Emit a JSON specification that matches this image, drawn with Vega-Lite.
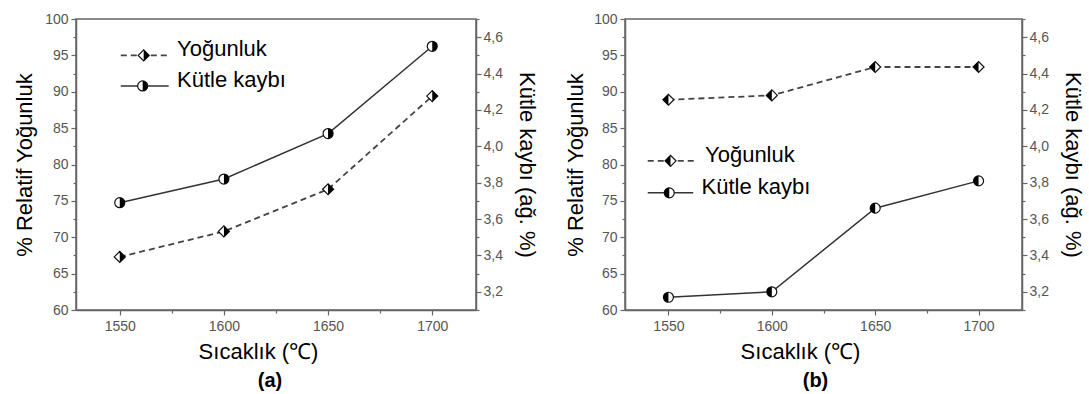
{
  "$schema": "https://vega.github.io/schema/vega-lite/v6.json",
  "padding": {"left": 12, "top": 11, "right": 0, "bottom": 0},
  "background": "white",
  "config": {
    "font": "Liberation Sans",
    "view": {"stroke": "#666", "strokeWidth": 1.5},
    "axis": {
      "grid": false,
      "domainColor": "#666",
      "domainWidth": 1.5,
      "tickColor": "#666",
      "tickWidth": 1.2,
      "labelColor": "#555",
      "labelFont": "Liberation Sans",
      "labelFontSize": 14,
      "titleFont": "Liberation Sans",
      "titleFontSize": 22,
      "titleFontWeight": "normal",
      "titleColor": "#000"
    }
  },
  "datasets": {
    "a": [
      {"T": 1550, "dens": 67.3, "loss": 3.69},
      {"T": 1600, "dens": 70.8, "loss": 3.82},
      {"T": 1650, "dens": 76.6, "loss": 4.07},
      {"T": 1700, "dens": 89.4, "loss": 4.55}
    ],
    "b": [
      {"T": 1550, "dens": 88.9, "loss": 3.17},
      {"T": 1600, "dens": 89.5, "loss": 3.2},
      {"T": 1650, "dens": 93.4, "loss": 3.66},
      {"T": 1700, "dens": 93.4, "loss": 3.81}
    ]
  },
  "spacing": 24,
  "hconcat": [
    {
      "width": 400,
      "height": 291,
      "title": {"text": "(a)", "orient": "bottom", "fontSize": 20, "fontWeight": "bold", "color": "#000", "offset": 9, "anchor": "middle", "dx": -6},
      "resolve": {"scale": {"y": "independent"}},
      "layer": [
        {
          "data": {"name": "a"},
          "encoding": {
            "x": {"field": "T", "type": "quantitative", "scale": {"domain": [1529, 1721], "nice": false, "zero": false},
              "axis": {"title": "Sıcaklık (℃)", "values": [1550, 1575, 1600, 1625, 1650, 1675, 1700], "format": "d",
                "labelExpr": "datum.value % 50 === 0 ? datum.label : ''",
                "tickSize": {"condition": {"test": "datum.value % 50 !== 0", "value": 3}, "value": 5},
                "labelPadding": 4, "titlePadding": 8, "titleX": 182}},
            "y": {"field": "dens", "type": "quantitative", "scale": {"domain": [60, 100], "nice": false, "zero": false},
              "axis": {"title": "% Relatif Yoğunluk", "orient": "left", "format": "d",
                "values": [60, 62.5, 65, 67.5, 70, 72.5, 75, 77.5, 80, 82.5, 85, 87.5, 90, 92.5, 95, 97.5, 100],
                "labelExpr": "datum.value % 5 === 0 ? datum.label : ''",
                "tickSize": {"condition": {"test": "datum.value % 5 !== 0", "value": 3}, "value": 5},
                "labelPadding": 3, "titlePadding": 8}}
          },
          "layer": [
            {"mark": {"type": "line", "color": "#444", "strokeWidth": 1.8, "strokeDash": [6, 4]}},
            {"mark": {"type": "point", "shape": "diamond", "size": 121, "filled": true, "fill": "white", "stroke": "#111", "strokeWidth": 1.2, "opacity": 1}},
            {"mark": {"type": "point", "shape": "M0,-1L1,0L0,1Z", "size": 121, "filled": true, "fill": "#000", "strokeWidth": 0, "opacity": 1}}
          ]
        },
        {
          "data": {"values": [
            {"series": "Yoğunluk", "x1": 1550.5, "x2": 1573.5, "xm": 1561.5, "xt": 1577.5, "y": 95},
            {"series": "Kütle kaybı", "x1": 1550.5, "x2": 1573.5, "xm": 1561, "xt": 1577.5, "y": 90.8}
          ]},
          "layer": [
            {"transform": [{"filter": "datum.series === 'Yoğunluk'"}], "mark": {"type": "rule", "color": "#444", "strokeWidth": 1.8, "strokeDash": [6, 4]},
              "encoding": {"x": {"field": "x1", "type": "quantitative", "scale": {"domain": [1529, 1721], "nice": false, "zero": false}}, "x2": {"field": "x2"}, "y": {"field": "y", "type": "quantitative", "scale": {"domain": [60, 100], "nice": false, "zero": false}, "axis": null}}},
            {"transform": [{"filter": "datum.series === 'Kütle kaybı'"}], "mark": {"type": "rule", "color": "#333", "strokeWidth": 1.5},
              "encoding": {"x": {"field": "x1", "type": "quantitative"}, "x2": {"field": "x2"}, "y": {"field": "y", "type": "quantitative", "axis": null}}},
            {"transform": [{"filter": "datum.series === 'Yoğunluk'"}], "mark": {"type": "point", "shape": "diamond", "size": 121, "filled": true, "fill": "white", "stroke": "#111", "strokeWidth": 1.2, "opacity": 1},
              "encoding": {"x": {"field": "xm", "type": "quantitative"}, "y": {"field": "y", "type": "quantitative", "axis": null}}},
            {"transform": [{"filter": "datum.series === 'Yoğunluk'"}], "mark": {"type": "point", "shape": "M0,-1L1,0L0,1Z", "size": 121, "filled": true, "fill": "#000", "strokeWidth": 0, "opacity": 1},
              "encoding": {"x": {"field": "xm", "type": "quantitative"}, "y": {"field": "y", "type": "quantitative", "axis": null}}},
            {"transform": [{"filter": "datum.series === 'Kütle kaybı'"}], "mark": {"type": "point", "shape": "circle", "size": 100, "filled": true, "fill": "white", "stroke": "#111", "strokeWidth": 1.2, "opacity": 1},
              "encoding": {"x": {"field": "xm", "type": "quantitative"}, "y": {"field": "y", "type": "quantitative", "axis": null}}},
            {"transform": [{"filter": "datum.series === 'Kütle kaybı'"}], "mark": {"type": "point", "shape": "M0,-1A1,1,0,0,1,0,1Z", "size": 100, "filled": true, "fill": "#000", "strokeWidth": 0, "opacity": 1},
              "encoding": {"x": {"field": "xm", "type": "quantitative"}, "y": {"field": "y", "type": "quantitative", "axis": null}}},
            {"mark": {"type": "text", "align": "left", "baseline": "alphabetic", "fontSize": 22, "color": "#000", "dy": 1},
              "encoding": {"x": {"field": "xt", "type": "quantitative"}, "y": {"field": "y", "type": "quantitative", "axis": null}, "text": {"field": "series"}}}
          ]
        },
        {
          "data": {"name": "a"},
          "encoding": {
            "x": {"field": "T", "type": "quantitative", "scale": {"domain": [1529, 1721], "nice": false, "zero": false}},
            "y": {"field": "loss", "type": "quantitative", "scale": {"domain": [3.1, 4.7], "nice": false, "zero": false},
              "axis": {"title": "Kütle kaybı (ağ. %)", "orient": "right",
                "values": [3.1, 3.2, 3.3, 3.4, 3.5, 3.6, 3.7, 3.8, 3.9, 4.0, 4.1, 4.2, 4.3, 4.4, 4.5, 4.6, 4.7],
                "labelExpr": "round(datum.value * 10) % 2 === 0 ? replace(format(datum.value, '.1f'), '.', ',') : ''",
                "tickSize": {"condition": {"test": "round(datum.value * 10) % 2 !== 0", "value": 3}, "value": 5},
                "labelPadding": 2, "titlePadding": 12}}
          },
          "layer": [
            {"mark": {"type": "line", "color": "#333", "strokeWidth": 1.5}},
            {"mark": {"type": "point", "shape": "circle", "size": 100, "filled": true, "fill": "white", "stroke": "#111", "strokeWidth": 1.2, "opacity": 1}},
            {"mark": {"type": "point", "shape": "M0,-1A1,1,0,0,1,0,1Z", "size": 100, "filled": true, "fill": "#000", "strokeWidth": 0, "opacity": 1}}
          ]
        }
      ]
    },
    {
      "width": 397,
      "height": 291,
      "title": {"text": "(b)", "orient": "bottom", "fontSize": 20, "fontWeight": "bold", "color": "#000", "offset": 9, "anchor": "middle", "dx": -8},
      "resolve": {"scale": {"y": "independent"}},
      "layer": [
        {
          "data": {"name": "b"},
          "encoding": {
            "x": {"field": "T", "type": "quantitative", "scale": {"domain": [1529, 1721], "nice": false, "zero": false},
              "axis": {"title": "Sıcaklık (℃)", "values": [1550, 1575, 1600, 1625, 1650, 1675, 1700], "format": "d",
                "labelExpr": "datum.value % 50 === 0 ? datum.label : ''",
                "tickSize": {"condition": {"test": "datum.value % 50 !== 0", "value": 3}, "value": 5},
                "labelPadding": 4, "titlePadding": 8, "titleX": 175}},
            "y": {"field": "dens", "type": "quantitative", "scale": {"domain": [60, 100], "nice": false, "zero": false},
              "axis": {"title": "% Relatif Yoğunluk", "orient": "left", "format": "d",
                "values": [60, 62.5, 65, 67.5, 70, 72.5, 75, 77.5, 80, 82.5, 85, 87.5, 90, 92.5, 95, 97.5, 100],
                "labelExpr": "datum.value % 5 === 0 ? datum.label : ''",
                "tickSize": {"condition": {"test": "datum.value % 5 !== 0", "value": 3}, "value": 5},
                "labelPadding": 3, "titlePadding": 6}}
          },
          "layer": [
            {"mark": {"type": "line", "color": "#444", "strokeWidth": 1.8, "strokeDash": [6, 4]}},
            {"mark": {"type": "point", "shape": "diamond", "size": 121, "filled": true, "fill": "white", "stroke": "#111", "strokeWidth": 1.2, "opacity": 1}},
            {"mark": {"type": "point", "shape": "M0,-1L-1,0L0,1Z", "size": 121, "filled": true, "fill": "#000", "strokeWidth": 0, "opacity": 1}}
          ]
        },
        {
          "data": {"values": [
            {"series": "Yoğunluk", "x1": 1540, "x2": 1562.8, "xm": 1551, "xt": 1567.7, "y": 80.5},
            {"series": "Kütle kaybı", "x1": 1540, "x2": 1562, "xm": 1550.4, "xt": 1566, "y": 76.1}
          ]},
          "layer": [
            {"transform": [{"filter": "datum.series === 'Yoğunluk'"}], "mark": {"type": "rule", "color": "#444", "strokeWidth": 1.8, "strokeDash": [6, 4]},
              "encoding": {"x": {"field": "x1", "type": "quantitative", "scale": {"domain": [1529, 1721], "nice": false, "zero": false}}, "x2": {"field": "x2"}, "y": {"field": "y", "type": "quantitative", "scale": {"domain": [60, 100], "nice": false, "zero": false}, "axis": null}}},
            {"transform": [{"filter": "datum.series === 'Kütle kaybı'"}], "mark": {"type": "rule", "color": "#333", "strokeWidth": 1.5},
              "encoding": {"x": {"field": "x1", "type": "quantitative"}, "x2": {"field": "x2"}, "y": {"field": "y", "type": "quantitative", "axis": null}}},
            {"transform": [{"filter": "datum.series === 'Yoğunluk'"}], "mark": {"type": "point", "shape": "diamond", "size": 121, "filled": true, "fill": "white", "stroke": "#111", "strokeWidth": 1.2, "opacity": 1},
              "encoding": {"x": {"field": "xm", "type": "quantitative"}, "y": {"field": "y", "type": "quantitative", "axis": null}}},
            {"transform": [{"filter": "datum.series === 'Yoğunluk'"}], "mark": {"type": "point", "shape": "M0,-1L-1,0L0,1Z", "size": 121, "filled": true, "fill": "#000", "strokeWidth": 0, "opacity": 1},
              "encoding": {"x": {"field": "xm", "type": "quantitative"}, "y": {"field": "y", "type": "quantitative", "axis": null}}},
            {"transform": [{"filter": "datum.series === 'Kütle kaybı'"}], "mark": {"type": "point", "shape": "circle", "size": 100, "filled": true, "fill": "white", "stroke": "#111", "strokeWidth": 1.2, "opacity": 1},
              "encoding": {"x": {"field": "xm", "type": "quantitative"}, "y": {"field": "y", "type": "quantitative", "axis": null}}},
            {"transform": [{"filter": "datum.series === 'Kütle kaybı'"}], "mark": {"type": "point", "shape": "M0,-1A1,1,0,0,0,0,1Z", "size": 100, "filled": true, "fill": "#000", "strokeWidth": 0, "opacity": 1},
              "encoding": {"x": {"field": "xm", "type": "quantitative"}, "y": {"field": "y", "type": "quantitative", "axis": null}}},
            {"mark": {"type": "text", "align": "left", "baseline": "alphabetic", "fontSize": 22, "color": "#000", "dy": 1},
              "encoding": {"x": {"field": "xt", "type": "quantitative"}, "y": {"field": "y", "type": "quantitative", "axis": null}, "text": {"field": "series"}}}
          ]
        },
        {
          "data": {"name": "b"},
          "encoding": {
            "x": {"field": "T", "type": "quantitative", "scale": {"domain": [1529, 1721], "nice": false, "zero": false}},
            "y": {"field": "loss", "type": "quantitative", "scale": {"domain": [3.1, 4.7], "nice": false, "zero": false},
              "axis": {"title": "Kütle kaybı (ağ. %)", "orient": "right",
                "values": [3.1, 3.2, 3.3, 3.4, 3.5, 3.6, 3.7, 3.8, 3.9, 4.0, 4.1, 4.2, 4.3, 4.4, 4.5, 4.6, 4.7],
                "labelExpr": "round(datum.value * 10) % 2 === 0 ? replace(format(datum.value, '.1f'), '.', ',') : ''",
                "tickSize": {"condition": {"test": "round(datum.value * 10) % 2 !== 0", "value": 3}, "value": 5},
                "labelPadding": 2, "titlePadding": 12}}
          },
          "layer": [
            {"mark": {"type": "line", "color": "#333", "strokeWidth": 1.5}},
            {"mark": {"type": "point", "shape": "circle", "size": 100, "filled": true, "fill": "white", "stroke": "#111", "strokeWidth": 1.2, "opacity": 1}},
            {"mark": {"type": "point", "shape": "M0,-1A1,1,0,0,0,0,1Z", "size": 100, "filled": true, "fill": "#000", "strokeWidth": 0, "opacity": 1}}
          ]
        }
      ]
    }
  ]
}
